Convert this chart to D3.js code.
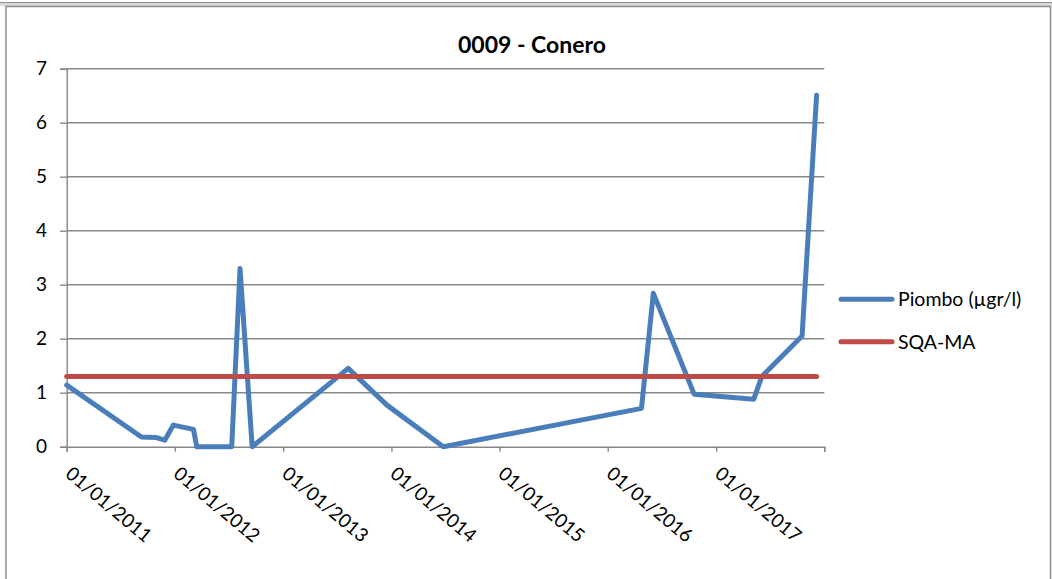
<!DOCTYPE html>
<html>
<head>
<meta charset="utf-8">
<script src="https://cdn.jsdelivr.net/npm/d3@7"></script>
<style>
  html, body { margin: 0; padding: 0; background: #fff; }
  svg { display: block; font-family: Lato, "Open Sans", sans-serif; }
</style>
</head>
<body>
<svg id="chart" width="1052" height="579"></svg>
<script>
// Sampling dates and lead concentration (µg/l) at station 0009 - Conero
const sampleDates = [
  "2011-01-01", "2011-09-10", "2011-10-31", "2011-11-28", "2011-12-27",
  "2012-03-04", "2012-03-15", "2012-07-11", "2012-08-08", "2012-09-18",
  "2013-08-08", "2013-12-17", "2014-06-25", "2016-04-24", "2016-06-03",
  "2016-10-19", "2017-05-08", "2017-06-04", "2017-10-18", "2017-12-06"
];
const piomboValues = [
  1.14, 0.18, 0.17, 0.12, 0.40,
  0.32, 0.00, 0.00, 3.30, 0.00,
  1.45, 0.77, 0.00, 0.71, 2.84,
  0.97, 0.88, 1.30, 2.05, 6.51
];
// Environmental quality standard (annual mean)
const sqaValues = sampleDates.map(() => 1.3);

const seriesNames = ["Piombo (µgr/l)", "SQA-MA"];
const seriesColors = ["#4a7ebb", "#be4b48"];
const xTickDates = ["2011-01-01", "2012-01-01", "2013-01-01", "2014-01-01",
                    "2015-01-01", "2016-01-01", "2017-01-01", "2018-01-01"];
const xTickLabels = ["01/01/2011", "01/01/2012", "01/01/2013", "01/01/2014",
                     "01/01/2015", "01/01/2016", "01/01/2017", ""];
const yTicks = [0, 1, 2, 3, 4, 5, 6, 7];
const chartTitle = "0009 - Conero";

const parse = d3.utcParse("%Y-%m-%d");
const svg = d3.select("#chart");

// outer frame
svg.append("rect").attr("x", 0).attr("y", 2).attr("width", 1052).attr("height", 4)
  .attr("fill", "#d9d9d9");
svg.append("line").attr("x1", 0).attr("x2", 1052).attr("y1", 2.5).attr("y2", 2.5)
  .attr("stroke", "#8c8c8c").attr("stroke-width", 1);
svg.append("rect").attr("x", 6).attr("y", 6.5).attr("width", 1044.5).attr("height", 600)
  .attr("fill", "#fff").attr("stroke", "#8c8c8c").attr("stroke-width", 1.5);

const plot = { left: 66.7, right: 824.3, top: 68.7, bottom: 446.7 };

const x = d3.scaleUtc()
  .domain([parse("2011-01-01"), parse("2018-01-01")])
  .range([plot.left, plot.right]);
const y = d3.scaleLinear().domain([0, 7]).range([plot.bottom, plot.top]);

const gridColor = "#878787";

// horizontal gridlines + y ticks
const yAxis = d3.axisLeft(y).tickValues(yTicks).tickSize(6.7).tickPadding(13)
  .tickFormat(d3.format("d"));
const gy = svg.append("g").attr("transform", `translate(${plot.left},0)`).call(yAxis);
gy.select(".domain").attr("stroke", gridColor).attr("stroke-width", 1.4);
gy.selectAll(".tick line").attr("stroke", gridColor).attr("stroke-width", 1.4);
gy.selectAll(".tick text").attr("fill", "#000").attr("font-size", 19)
  .attr("font-family", "Lato, sans-serif");
svg.append("g").selectAll("line").data(yTicks.filter(d => d > 0)).join("line")
  .attr("x1", plot.left).attr("x2", plot.right)
  .attr("y1", d => y(d)).attr("y2", d => y(d))
  .attr("stroke", gridColor).attr("stroke-width", 1.4);

// x axis
const xAxis = d3.axisBottom(x).tickValues(xTickDates.map(parse)).tickSize(5)
  .tickFormat((d, i) => xTickLabels[i]);
const gx = svg.append("g").attr("transform", `translate(0,${plot.bottom})`).call(xAxis);
gx.select(".domain").attr("stroke", gridColor).attr("stroke-width", 1.4);
gx.selectAll(".tick line").attr("stroke", gridColor).attr("stroke-width", 1.4);
gx.selectAll(".tick text")
  .attr("fill", "#000").attr("font-size", 19).attr("font-family", "Lato, sans-serif")
  .attr("text-anchor", "start").attr("dy", null).attr("y", null)
  .attr("transform", "translate(-3,29) rotate(40)");

// series
const dates = sampleDates.map(parse);
const line = d3.line().x(d => x(d[0])).y(d => y(d[1]));
const seriesData = [piomboValues, sqaValues];
seriesData.forEach((vals, i) => {
  svg.append("path")
    .datum(vals.map((v, j) => [dates[j], v]))
    .attr("d", line)
    .attr("fill", "none")
    .attr("stroke", seriesColors[i])
    .attr("stroke-width", 5)
    .attr("stroke-linejoin", "round")
    .attr("stroke-linecap", "round");
});

// title
svg.append("text").attr("x", 532).attr("y", 53).attr("text-anchor", "middle")
  .attr("font-size", 23).attr("font-weight", "bold").attr("fill", "#000")
  .text(chartTitle);

// legend
const legend = svg.append("g");
seriesNames.forEach((name, i) => {
  const ly = 299.3 + i * 42.4;
  legend.append("line").attr("x1", 841).attr("x2", 892).attr("y1", ly).attr("y2", ly)
    .attr("stroke", seriesColors[i]).attr("stroke-width", 5).attr("stroke-linecap", "round");
  legend.append("text").attr("x", 898).attr("y", ly).attr("dy", "0.35em")
    .attr("font-size", 19.5).attr("fill", "#000").text(name);
});
</script>
</body>
</html>
